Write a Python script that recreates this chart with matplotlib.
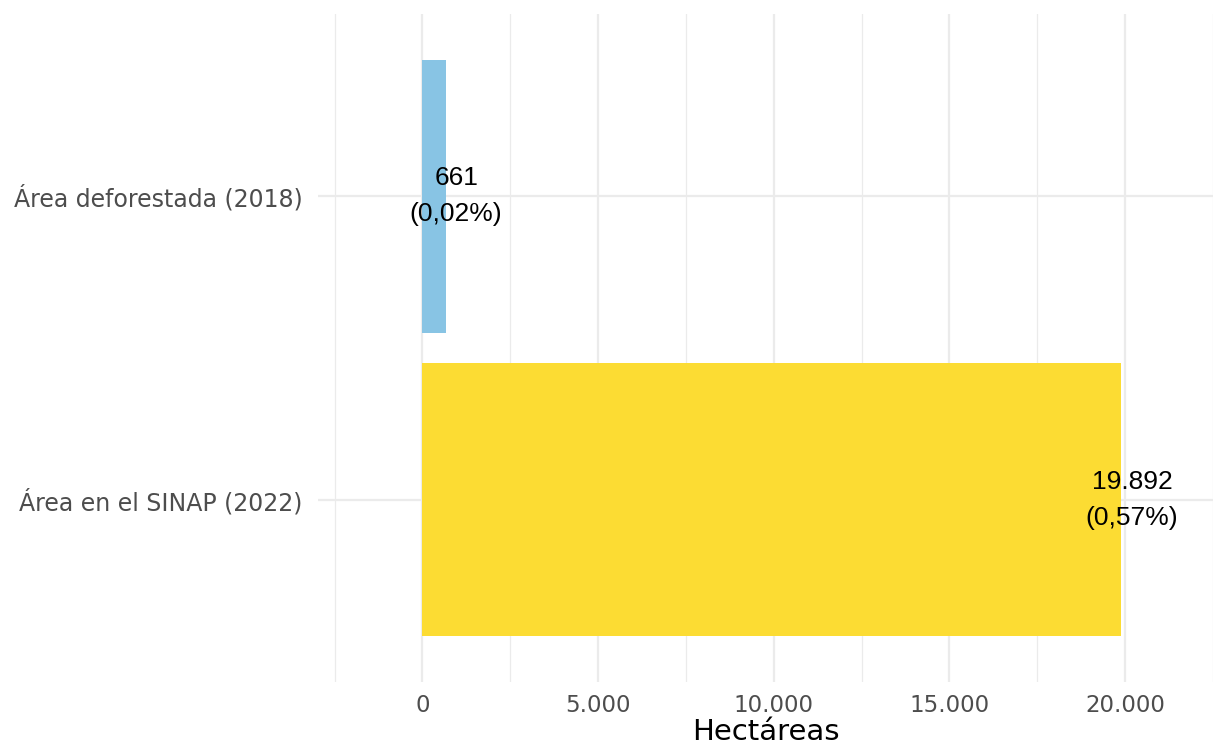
import matplotlib
matplotlib.use("Agg")
import matplotlib.pyplot as plt

# datos
categorias = ["Área en el SINAP (2022)", "Área deforestada (2018)"]
hectareas = [19892, 661]
porcentajes = [0.57, 0.02]
colores = ["#FCDC33", "#88C4E4"]
xticks = [0, 5000, 10000, 15000, 20000]
xticks_menores = [-2500, 2500, 7500, 12500, 17500, 22500]


def miles(v):
    return f"{v:,.0f}".replace(",", ".")


fig = plt.figure(figsize=(12.13, 7.45), dpi=100)
ax = fig.add_axes([318 / 1213, 1 - 682 / 745, 1 - 318 / 1213, (682 - 14) / 745])

ys = list(range(len(categorias)))
ax.barh(ys, hectareas, height=0.9, color=colores, zorder=2)

for y, v, p in zip(ys, hectareas, porcentajes):
    txt = f"{miles(v)}\n({p:.2f}%)".replace("0.", "0,")
    ax.text(v + 300, y, txt, ha="center", va="center", fontsize=19,
            family="Liberation Sans", linespacing=1.6, color="black", zorder=3)

ax.set_xlim(-2970, 22300)
ax.set_ylim(-0.6, 1.6)
ax.set_yticks(ys)
ax.set_yticklabels(categorias, fontsize=17, color="#4D4D4D")
ax.set_xticks(xticks)
ax.set_xticklabels([miles(t) for t in xticks], fontsize=16.5, color="#4D4D4D")
ax.set_xticks(xticks_menores, minor=True)
ax.tick_params(axis="both", which="both", length=0)
ax.tick_params(axis="x", pad=9)
ax.tick_params(axis="y", pad=11)

ax.grid(True, which="major", color="#EBEBEB", lw=1.6, zorder=0)
ax.grid(True, which="minor", axis="x", color="#EBEBEB", lw=0.9, zorder=0)
ax.set_axisbelow(True)
for s in ax.spines.values():
    s.set_visible(False)

ax.set_xlabel("Hectáreas", fontsize=21, labelpad=0)

fig.savefig("out.png", dpi=100)
